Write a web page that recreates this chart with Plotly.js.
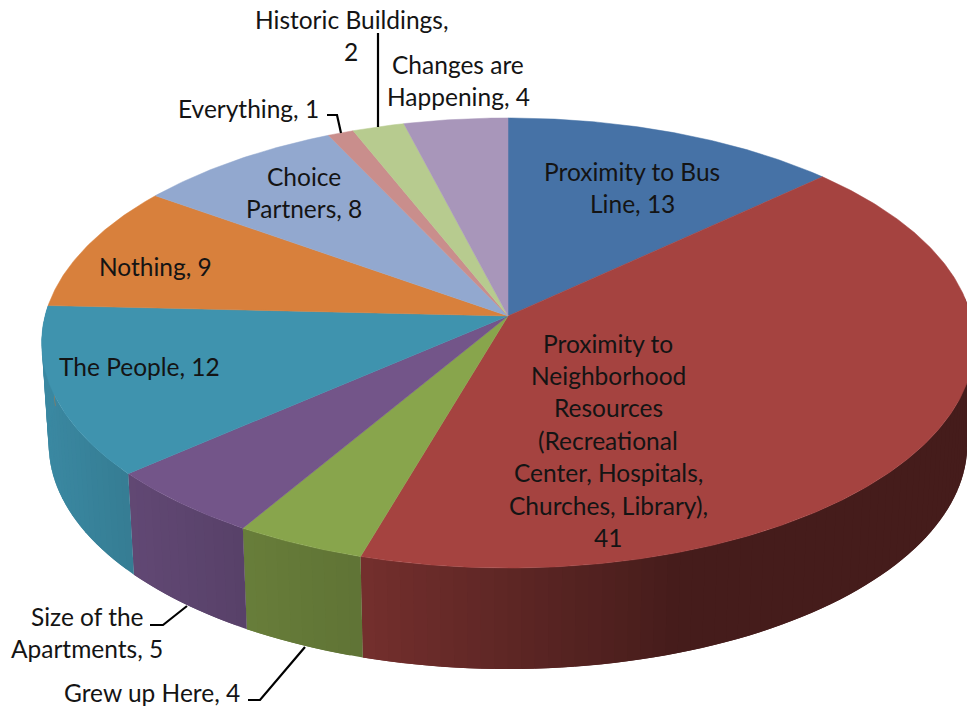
<!DOCTYPE html>
<html>
<head>
<meta charset="utf-8">
<script src="https://cdn.plot.ly/plotly-3.0.1.min.js"></script>
<style>html,body{margin:0;padding:0;background:#fff;overflow:hidden}#chart{width:967px;height:709px}</style>
</head>
<body>
<div id="chart"></div>
<script>
const categories = ["Proximity to Bus Line","Proximity to Neighborhood Resources (Recreational Center, Hospitals, Churches, Library)","Grew up Here","Size of the Apartments","The People","Nothing","Choice Partners","Everything","Historic Buildings","Changes are Happening"];
const values = [13,41,4,5,12,9,8,1,2,4];
const colors = ["#4672a6","#a54340","#88a54c","#735589","#3f93ae","#d8803c","#92a8cf","#c98e8c","#b7cb8f","#a896ba"];
const labelLines = [
  ["Proximity to Bus","Line, 13"],
  ["Proximity to","Neighborhood","Resources","(Recreational","Center, Hospitals,","Churches, Library),","41"],
  ["Grew up Here, 4"],
  ["Size of the","Apartments, 5"],
  ["The People, 12"],
  ["Nothing, 9"],
  ["Choice","Partners, 8"],
  ["Everything, 1"],
  ["Historic Buildings,","2"],
  ["Changes are","Happening, 4"]
];
const labelX = [632,608,152,87,139,155,304,248,351,458];
const labelY = [171,343,692,616,366,266,176,108,19,64];
const lineGap = 32.4;

// projection of the pie disc
const cx=508, cy=316, A=463, B=221.8, P=0.12, DEPTH=101, SHRINK=0.985;
function rad(d){return d*Math.PI/180;}
function upperRing(t){const X=Math.sin(rad(t)),Y=Math.cos(rad(t)),k=1+P*Y;return [cx+A*X/k, cy-B*Y/k];}
function lowerRing(t){const X=Math.sin(rad(t)),Y=Math.cos(rad(t)),k=1+P*Y;return [cx+SHRINK*A*X/k, cy+DEPTH-B*Y/k];}
function shade(x){
  const xs=[40,135,248,362,680,1000], fs=[.93,.84,.76,.70,.42,.42];
  for(let i=0;i<xs.length-1;i++){ if(x<=xs[i+1]){const u=Math.max(0,(x-xs[i])/(xs[i+1]-xs[i]));return fs[i]+u*(fs[i+1]-fs[i]);} }
  return .42;
}
function dark(hex,f){const n=parseInt(hex.slice(1),16);return `rgb(${Math.round((n>>16)*f)},${Math.round(((n>>8)&255)*f)},${Math.round((n&255)*f)})`;}

const total=values.reduce((a,b)=>a+b,0);
const traces=[];
const spans=[];
let acc=0;
values.forEach(v=>{spans.push([acc/total*360,(acc+v)/total*360]);acc+=v;});

// side wall: each strip runs on under the next one, so no seams show
spans.forEach((s,i)=>{
  const a=Math.max(s[0],85), b=Math.min(s[1],273);
  if(b<=a) return;
  const n=Math.max(1,Math.ceil((b-a)/1.5));
  const step=(b-a)/n;
  for(let j=0;j<n;j++){
    const t0=a+step*j, t1=t0+step, tEnd=Math.min(t1+step,b);
    const arcTop=[upperRing(t0),upperRing(t1),upperRing(tEnd)];
    const arcLow=[lowerRing(tEnd),lowerRing(t1),lowerRing(t0)];
    const p=arcTop.concat(arcLow,[upperRing(t0)]);
    const mid=upperRing((t0+t1)/2);
    traces.push({type:"scatter",mode:"lines",x:p.map(q=>q[0]),y:p.map(q=>q[1]),fill:"toself",fillcolor:dark(colors[i],shade(mid[0])),line:{width:0},hoverinfo:"skip",showlegend:false});
  }
});
// top face
spans.forEach((s,i)=>{
  const xs=[cx], ys=[cy];
  const n=Math.ceil((s[1]-s[0])/0.5);
  for(let j=0;j<=n;j++){const p=upperRing(s[0]+(s[1]-s[0])*j/n);xs.push(p[0]);ys.push(p[1]);}
  xs.push(cx);ys.push(cy);
  traces.push({type:"scatter",mode:"lines",name:categories[i],x:xs,y:ys,fill:"toself",fillcolor:colors[i],line:{color:colors[i],width:0.5},hoverinfo:"name",showlegend:false});
});

const annotations=[];
labelLines.forEach((lines,i)=>{
  lines.forEach((txt,j)=>{
    annotations.push({x:labelX[i],y:labelY[i]+j*lineGap,xref:"x",yref:"y",text:txt,showarrow:false,xanchor:"center",yanchor:"middle",font:{family:"Lato, Carlito, sans-serif",size:24.5,color:"#141414"}});
  });
});
const leader=d=>({type:"path",path:d,xref:"x",yref:"y",line:{color:"#000",width:2.2}});
const layout={
  width:967,height:709,margin:{l:0,r:0,t:0,b:0},paper_bgcolor:"#fff",plot_bgcolor:"#fff",showlegend:false,
  xaxis:{range:[0,967],visible:false,fixedrange:true},
  yaxis:{range:[709,0],visible:false,fixedrange:true},
  annotations,
  shapes:[
    leader("M378,33 L378,127"),
    leader("M327,115 L337,115 L341,133"),
    leader("M150,625 L163,625 L187,606"),
    leader("M248,700 L260,700 L305,647")
  ]
};
Plotly.newPlot("chart",traces,layout,{displayModeBar:false,staticPlot:true});
</script>
</body>
</html>
